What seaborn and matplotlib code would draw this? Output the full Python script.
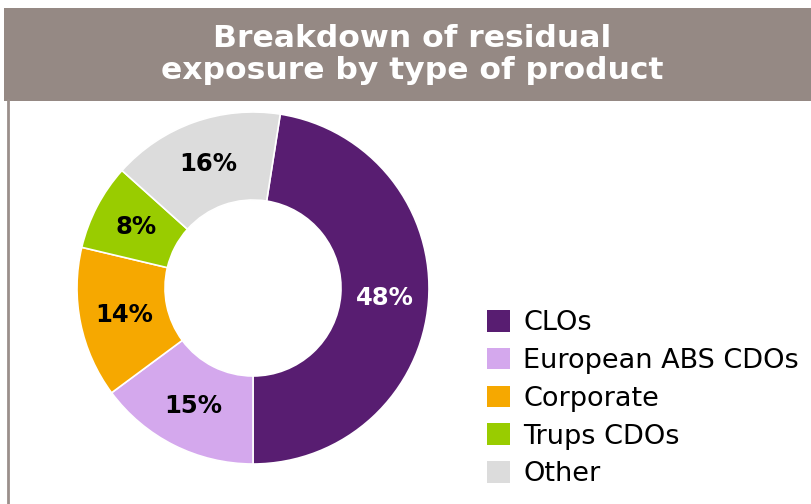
import matplotlib
matplotlib.use("Agg")
import matplotlib.pyplot as plt
from matplotlib.patches import Rectangle, Patch
from matplotlib.lines import Line2D
import seaborn as sns

# Residual exposure by product type (percent)
categories = ["CLOs", "European ABS CDOs", "Corporate", "Trups CDOs", "Other"]
shares = [48, 15, 14, 8, 16]
colors = ["#581d71", "#d4a8ed", "#f6a800", "#99cc00", "#dcdcdc"]
label_colors = ["white", "black", "black", "black", "black"]
title = "Breakdown of residual\nexposure by type of product"

sns.set_theme(style="white")
plt.rcParams["font.family"] = ["DejaVu Sans"]

W, H, DPI = 811, 504, 100
fig = plt.figure(figsize=(W / DPI, H / DPI), dpi=DPI)
fig.patch.set_facecolor("white")

# Title banner and left frame line
fig.add_artist(Rectangle((4 / W, 1 - 101 / H), 1 - 4 / W, 93 / H,
                         transform=fig.transFigure, facecolor="#958984",
                         edgecolor="none"))
fig.add_artist(Line2D([7.5 / W, 7.5 / W], [0, 1 - 100 / H],
                      transform=fig.transFigure, color="#9a8f8b", lw=2))
fig.text(412 / W, 1 - 54.5 / H, title, ha="center", va="center",
         color="white", fontsize=22.6, fontweight="bold", linespacing=1.1)

# Donut chart
cx, cy, r = 253, 288, 176
ax = fig.add_axes([(cx - r) / W, 1 - (cy + r) / H, 2 * r / W, 2 * r / H])
total = sum(shares)
start = 90 - (180 - shares[0] / total * 360)
wedges, texts = ax.pie(
    shares, colors=colors, startangle=start, counterclock=False,
    radius=1.0, wedgeprops=dict(width=0.5, edgecolor="white", linewidth=1.2),
    labels=[f"{v}%" for v in shares], labeldistance=0.75,
)
for t, c in zip(texts, label_colors):
    t.set_color(c)
    t.set_fontsize(17.5)
    t.set_fontweight("bold")
    t.set_ha("center")
    t.set_va("center")
ax.set_xlim(-1, 1)
ax.set_ylim(-1, 1)
ax.set_aspect("equal")
ax.axis("off")

# Legend
handles = [Patch(facecolor=c, edgecolor="none") for c in colors]
fig.legend(handles, categories, loc="upper left",
           bbox_to_anchor=(487 / W, 1 - 310 / H), frameon=False,
           fontsize=19.5, handlelength=0.85, handleheight=0.85,
           handletextpad=0.48, labelspacing=0.43, borderpad=0,
           borderaxespad=0, labelcolor="black")

fig.savefig("out.png", dpi=DPI, facecolor="white")
